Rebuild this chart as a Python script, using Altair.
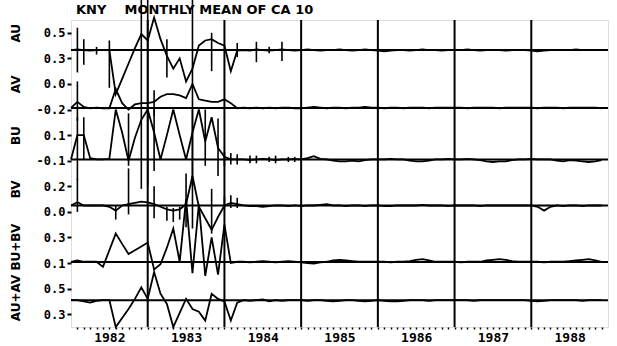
import json
import altair as alt
import pandas as pd

# ---------------- data ----------------
title_text = "KNY\u00a0\u00a0\u00a0\u00a0MONTHLY MEAN OF CA 10"
names = ["AU", "AV", "BU", "BV", "BU+BV", "AU+AV"]
lower_label = [0.3, -0.2, -0.1, 0.0, 0.1, 0.3]
upper_label = [0.5, 0.0, 0.1, 0.2, 0.3, 0.5]
baselines = [0.365, -0.187, -0.09, 0.05, 0.108, 0.41]
years = [1982, 1983, 1984, 1985, 1986, 1987, 1988]
name_text = ["AU", "AV", "BU", "BV", "AU+AV BU+BV"]
name_pos = [11.5, 9.5, 7.5, 5.4, 2.15]

au = [0.365, 0.37, 0.365, 0.36, 0.365, 0.365, 0.365, 0.02, 0.14, 0.26, 0.38, 0.49, 0.44, 0.62, 0.45,
      0.32, 0.22, 0.30, 0.12, 0.22, 0.40, 0.44, 0.45, 0.42, 0.40, 0.20, 0.36,
      0.365, 0.36, 0.37, 0.365, 0.36, 0.365, 0.37, 0.365, 0.36,
      0.365, 0.37, 0.365, 0.36, 0.365, 0.365, 0.37, 0.365, 0.36, 0.365, 0.37, 0.365,
      0.36, 0.355, 0.36, 0.365, 0.365, 0.36, 0.365, 0.37, 0.365, 0.365, 0.36, 0.365,
      0.365, 0.365, 0.37, 0.365, 0.36, 0.365, 0.365, 0.365, 0.36, 0.365, 0.365, 0.365,
      0.36, 0.355, 0.36, 0.365, 0.365, 0.365, 0.365, 0.37, 0.365, 0.365, 0.365, 0.365]
av = [-0.187, -0.14, -0.18, -0.19, -0.185, -0.19, -0.19, -0.04, -0.15, -0.20, -0.16, -0.15, -0.15, -0.14,
      -0.10, -0.08, -0.08, -0.09, -0.11, 0.0, -0.12, -0.13, -0.14, -0.14, -0.12, -0.15, -0.19,
      -0.185, -0.19, -0.185, -0.19, -0.185, -0.19, -0.185, -0.185, -0.19,
      -0.19, -0.185, -0.18, -0.185, -0.19, -0.185, -0.185, -0.19, -0.185, -0.185, -0.18, -0.185,
      -0.185, -0.19, -0.185, -0.185, -0.19, -0.185, -0.185, -0.185, -0.19, -0.185, -0.185, -0.185,
      -0.185, -0.185, -0.19, -0.185, -0.185, -0.185, -0.185, -0.19, -0.185, -0.185, -0.185, -0.185,
      -0.185, -0.19, -0.185, -0.185, -0.185, -0.19, -0.185, -0.185, -0.185, -0.185, -0.185, -0.19]
bu = [-0.09, 0.10, 0.10, -0.08, -0.09, -0.09, -0.085, 0.30, 0.12, -0.10, 0.08, 0.22, 0.30, 0.12, -0.09,
      0.10, 0.30, 0.10, -0.09, 0.12, 0.30, 0.05, 0.24, 0.0, -0.07, -0.09, -0.09,
      -0.09, -0.095, -0.09, -0.085, -0.09, -0.095, -0.09, -0.09, -0.085,
      -0.09, -0.08, -0.065, -0.085, -0.09, -0.1, -0.105, -0.105, -0.1, -0.105, -0.095, -0.09,
      -0.09, -0.09, -0.085, -0.09, -0.09, -0.1, -0.105, -0.105, -0.1, -0.09, -0.09, -0.085,
      -0.09, -0.09, -0.085, -0.09, -0.095, -0.105, -0.11, -0.105, -0.105, -0.095, -0.09, -0.09,
      -0.085, -0.09, -0.09, -0.09, -0.1, -0.105, -0.095, -0.1, -0.105, -0.11, -0.105, -0.095]
bv = [0.05, 0.075, 0.05, 0.05, 0.05, 0.05, 0.04, 0.01, 0.05, 0.06, 0.07, 0.08, 0.075, 0.06, 0.04,
      0.02, 0.01, 0.02, 0.06, 0.28, 0.04, -0.05, -0.14, -0.04, 0.05, 0.07, 0.06,
      0.05, 0.045, 0.045, 0.04, 0.045, 0.05, 0.05, 0.045, 0.05,
      0.045, 0.05, 0.05, 0.055, 0.06, 0.05, 0.05, 0.045, 0.05, 0.05, 0.045, 0.05,
      0.05, 0.045, 0.045, 0.05, 0.05, 0.05, 0.05, 0.055, 0.05, 0.05, 0.05, 0.045,
      0.05, 0.05, 0.05, 0.05, 0.045, 0.05, 0.05, 0.05, 0.05, 0.05, 0.05, 0.05,
      0.05, 0.04, 0.01, 0.04, 0.05, 0.045, 0.05, 0.05, 0.045, 0.05, 0.05, 0.05]
bubv = [0.11, 0.12, 0.11, 0.11, 0.11, 0.07, 0.20, 0.33, 0.25, 0.17, 0.20, 0.23, 0.26, 0.05, 0.09,
        0.22, 0.37, 0.11, 0.60, 0.02, 0.56, 0.0, 0.30, 0.01, 0.40, 0.10, 0.11,
        0.11, 0.105, 0.11, 0.115, 0.11, 0.105, 0.11, 0.115, 0.11,
        0.105, 0.1, 0.095, 0.105, 0.11, 0.12, 0.125, 0.12, 0.115, 0.11, 0.11, 0.11,
        0.11, 0.11, 0.105, 0.11, 0.11, 0.115, 0.125, 0.13, 0.12, 0.11, 0.11, 0.11,
        0.11, 0.105, 0.11, 0.11, 0.11, 0.12, 0.125, 0.13, 0.125, 0.115, 0.11, 0.11,
        0.11, 0.11, 0.105, 0.11, 0.11, 0.11, 0.115, 0.12, 0.125, 0.13, 0.12, 0.11]
auav = [0.41, 0.41, 0.40, 0.39, 0.405, 0.41, 0.41, 0.20, 0.27, 0.34, 0.42, 0.51, 0.42, 0.63, 0.46,
        0.38, 0.20, 0.31, 0.42, 0.34, 0.32, 0.25, 0.46, 0.42, 0.40, 0.25, 0.39,
        0.41, 0.405, 0.41, 0.415, 0.4, 0.41, 0.405, 0.41, 0.41,
        0.41, 0.405, 0.41, 0.41, 0.405, 0.4, 0.405, 0.41, 0.41, 0.405, 0.4, 0.405,
        0.41, 0.405, 0.4, 0.4, 0.405, 0.41, 0.41, 0.41, 0.405, 0.41, 0.41, 0.41,
        0.41, 0.41, 0.41, 0.405, 0.41, 0.41, 0.41, 0.41, 0.41, 0.41, 0.41, 0.41,
        0.405, 0.4, 0.405, 0.41, 0.41, 0.41, 0.41, 0.41, 0.405, 0.41, 0.41, 0.41]
series = [au, av, bu, bv, bubv, auav]

# error bars: series index, month index, low, high
err_series = [0, 0, 0, 0, 0, 0, 0, 0, 0, 0, 0, 0, 0,
              1, 1,
              2, 2, 2, 2, 2, 2, 2, 2, 2, 2, 2, 2, 2, 2, 2, 2,
              3, 3, 3, 3, 3, 3, 3, 3, 3, 3, 3, 3]
err_month = [1, 2, 4, 6, 11, 12, 15, 19, 22, 26, 29, 31, 33,
             1, 13,
             1, 2, 9, 13, 21, 23, 24, 25, 26, 28, 29, 31, 32, 34, 35, 19,
             1, 7, 9, 13, 15, 16, 17, 22, 24, 25, 26, 18]
err_lo = [0.19, 0.25, 0.33, 0.07, -0.72, -0.70, 0.15, -1.03, 0.20, 0.31, 0.27, 0.34, 0.28,
          -0.29, -0.25,
          -0.25, -0.09, -0.14, -0.18, -0.14, -0.22, -0.14, -0.13, -0.13, -0.12, -0.12, -0.11, -0.12, -0.11, -0.11, -0.30,
          0.0, -0.06, -0.02, -0.05, -0.07, -0.08, -0.06, -0.17, 0.02, 0.03, 0.03, -0.12]
err_hi = [0.54, 0.45, 0.39, 0.44, 0.78, 0.78, 0.45, 0.78, 0.50, 0.42, 0.43, 0.39, 0.43,
          0.02, -0.05,
          0.24, 0.24, 0.27, 0.30, 0.30, 0.23, -0.03, -0.04, -0.05, -0.06, -0.06, -0.07, -0.06, -0.07, -0.07, 0.30,
          0.26, 0.05, 0.34, 0.20, 0.04, 0.03, 0.04, 0.18, 0.12, 0.13, 0.11, 0.30]

# ---------------- build tables ----------------
panel_bottom = [2 * (len(names) - 1 - k) for k in range(len(names))]


def to_u(k, v):
    return panel_bottom[k] + 0.5 + (v - lower_label[k]) / (upper_label[k] - lower_label[k])


rows = []
for k, vals in enumerate(series):
    for m, v in enumerate(vals):
        rows.append({"series": names[k], "t": years[0] + m / 12.0, "u": to_u(k, v)})
lines_df = pd.DataFrame(rows)

base_df = pd.DataFrame({"series": names, "u": [to_u(k, b) for k, b in enumerate(baselines)]})

err_df = pd.DataFrame({
    "t": [years[0] + m / 12.0 for m in err_month],
    "lo": [to_u(k, v) for k, v in zip(err_series, err_lo)],
    "hi": [to_u(k, v) for k, v in zip(err_series, err_hi)],
})

year_lines = pd.DataFrame({"t": [y + 1 for y in years[:-1]]})
title_df = pd.DataFrame({"text": [title_text]})

tick_vals, tick_labels = [], []
for k in range(len(names)):
    tick_vals += [panel_bottom[k] + 0.5, panel_bottom[k] + 1.5]
    tick_labels += ["%.1f" % lower_label[k], "%.1f" % upper_label[k]]

num_expr = "%s[indexof(%s, datum.value)]" % (json.dumps(tick_labels), json.dumps(tick_vals))
name_expr = "%s[indexof(%s, datum.value)]" % (json.dumps(name_text), json.dumps(name_pos))

# monthly tick positions on the time axis; labels only at mid-year
month_ticks = [years[0] + i / 12.0 for i in range(1, 12 * len(years))]

xscale = alt.Scale(domain=[years[0], years[-1] + 1], nice=False, zero=False)
yscale = alt.Scale(domain=[0, 2 * len(names)], nice=False, zero=False)

MONO = "DejaVu Sans Mono"

x_axis = alt.Axis(orient="bottom", values=month_ticks,
                  labelExpr="abs(datum.value - floor(datum.value) - 0.5) < 0.01 ? "
                            "toString(floor(datum.value)) : ''",
                  ticks=True, tickSize=2, tickWidth=1.5, tickColor="black",
                  domain=False, grid=False, title=None, labelFont=MONO, labelOverlap=False,
                  labelFontSize=13, labelFontWeight="bold", labelColor="black", labelPadding=2)

num_axis = alt.Axis(orient="left", values=tick_vals, labelExpr=num_expr, grid=False, domain=False,
                    title=None, tickSize=4, tickWidth=2, tickColor="black", labelFont=MONO,
                    labelFontSize=12, labelFontWeight="bold", labelColor="black", labelPadding=2)

name_axis = alt.Axis(orient="left", values=name_pos, labelExpr=name_expr, grid=False, domain=False,
                     ticks=False, tickSize=0, title=None, labelAngle=270, labelAlign="center",
                     labelBaseline="middle", labelPadding=56, labelFont="DejaVu Sans",
                     labelFontSize=12, labelFontWeight="bold", labelColor="black")

X = alt.X("t:Q", scale=xscale, axis=x_axis)

years_layer = alt.Chart(year_lines).mark_rule(color="black", strokeWidth=2).encode(x=X)

base_layer = alt.Chart(base_df).mark_rule(color="black", strokeWidth=2).encode(
    y=alt.Y("u:Q", scale=yscale, axis=name_axis))

line_layer = alt.Chart(lines_df).mark_line(color="black", strokeWidth=1.8).encode(
    x=X,
    y=alt.Y("u:Q", scale=yscale, axis=num_axis),
    detail="series:N")

err_layer = alt.Chart(err_df).mark_rule(color="black", strokeWidth=1.6).encode(
    x=X,
    y=alt.Y("lo:Q", scale=yscale, axis=None),
    y2="hi:Q")

title_layer = alt.Chart(title_df).mark_text(
    align="left", baseline="alphabetic", font="DejaVu Sans", fontSize=13, fontWeight="bold",
    color="black").encode(x=alt.value(5), y=alt.value(-6), text="text:N")

chart = alt.layer(years_layer, base_layer, line_layer, err_layer, title_layer).resolve_scale(
    y="independent").resolve_axis(y="independent").properties(
    width=537, height=307,
    padding={"left": 71, "top": 20, "right": 9, "bottom": 19},
    autosize=alt.AutoSizeParams(type="none"),
).configure_view(stroke="black", strokeWidth=2).configure(background="white")

chart.save("out.html", embed_options={"renderer": "svg", "actions": False})
